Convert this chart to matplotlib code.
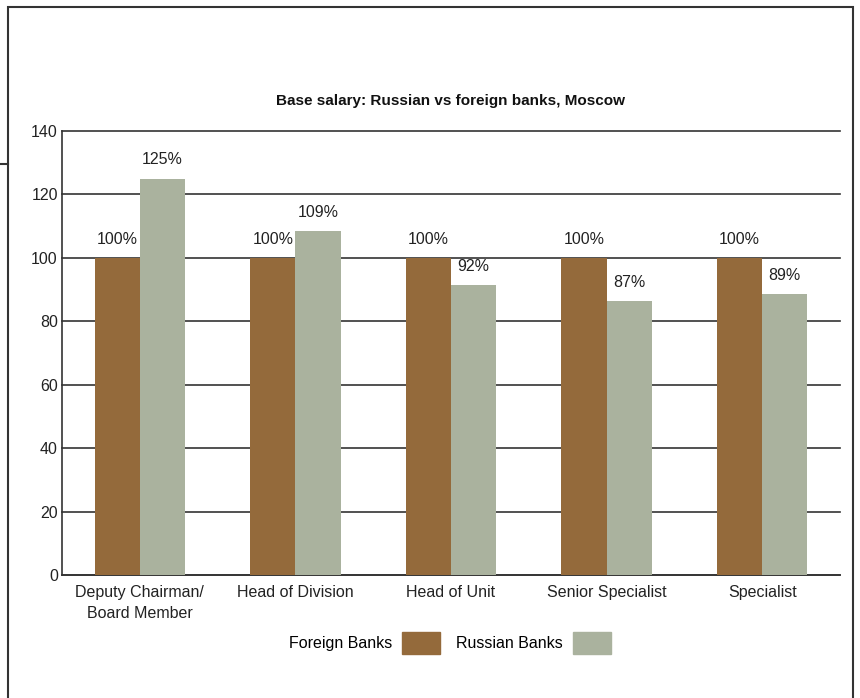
import matplotlib
matplotlib.use("Agg")
import matplotlib.pyplot as plt
from matplotlib.patches import Rectangle, Patch
from matplotlib.lines import Line2D
import numpy as np

categories = ["Deputy Chairman/\nBoard Member", "Head of Division", "Head of Unit",
              "Senior Specialist", "Specialist"]
foreign = [100, 100, 100, 100, 100]
russian = [125, 108.5, 91.3, 86.5, 88.7]
foreign_labels = ["100%", "100%", "100%", "100%", "100%"]
russian_labels = ["125%", "109%", "92%", "87%", "89%"]
yticks = [0, 20, 40, 60, 80, 100, 120, 140]

plt.rcParams['font.family'] = ['Liberation Sans', 'DejaVu Sans']
FS = 11.5

W, H = 860, 698
fig = plt.figure(figsize=(W / 100, H / 100), dpi=100)
fig.patch.set_facecolor('white')

ax = fig.add_axes([62 / W, 1 - 575 / H, (840 - 62) / W, (575 - 131) / H])
x = np.arange(len(categories))
bw = 0.29
c_f = '#946a3b'
c_r = '#aab29e'
ax.bar(x - bw / 2, foreign, bw, color=c_f, zorder=3)
ax.bar(x + bw / 2, russian, bw, color=c_r, zorder=3)

for i in range(len(categories)):
    ax.annotate(foreign_labels[i], (x[i] - bw / 2, foreign[i]), xytext=(0, 8),
                textcoords='offset points', ha='center', va='bottom', fontsize=FS, color='#222222')
    ax.annotate(russian_labels[i], (x[i] + bw / 2, russian[i]), xytext=(0, 8),
                textcoords='offset points', ha='center', va='bottom', fontsize=FS, color='#222222')

ax.set_xlim(-0.5, 4.5)
ax.set_ylim(0, 140)
ax.set_yticks(yticks)
ax.set_xticks(x)
ax.set_xticklabels(categories, fontsize=FS, color='#222222', linespacing=1.55)
for t in ax.get_xticklabels():
    t.set_multialignment('center')
ax.tick_params(axis='y', labelsize=FS, colors='#222222', length=0, pad=3)
ax.tick_params(axis='x', length=0, pad=7)
ax.grid(axis='y', color='#333333', linewidth=1.2, zorder=0)
for gl in ax.get_ygridlines():
    gl.set_clip_on(False)
for s in ['top', 'right']:
    ax.spines[s].set_visible(False)
ax.spines['left'].set_color('#333333')
ax.spines['bottom'].set_color('#333333')
ax.spines['left'].set_linewidth(1.2)
ax.spines['bottom'].set_linewidth(1.2)
ax.set_axisbelow(True)

fig.text(451 / W, 1 - 101 / H, "Base salary: Russian vs foreign banks, Moscow",
         ha='center', va='center', fontsize=11, fontweight='bold', color='#111111')

handles = [Patch(color=c_f), Patch(color=c_r)]
fig.legend(handles, ["Foreign Banks", "Russian Banks"], loc='center',
           bbox_to_anchor=(450 / W, 1 - 643 / H), ncol=2, frameon=False,
           markerfirst=False, fontsize=FS, handlelength=2.4, handleheight=1.7,
           columnspacing=1.0, handletextpad=0.6)

# outer frame
fig.add_artist(Rectangle((8 / W, -0.05), (853 - 8) / W, 1.05 - 7 / H,
                         transform=fig.transFigure, fill=False,
                         edgecolor='#333333', linewidth=1.5))
fig.add_artist(Line2D([0, 8 / W], [1 - 164 / H, 1 - 164 / H],
                      transform=fig.transFigure, color='#333333', linewidth=1.5))

fig.savefig("out.png", dpi=100, facecolor='white')
